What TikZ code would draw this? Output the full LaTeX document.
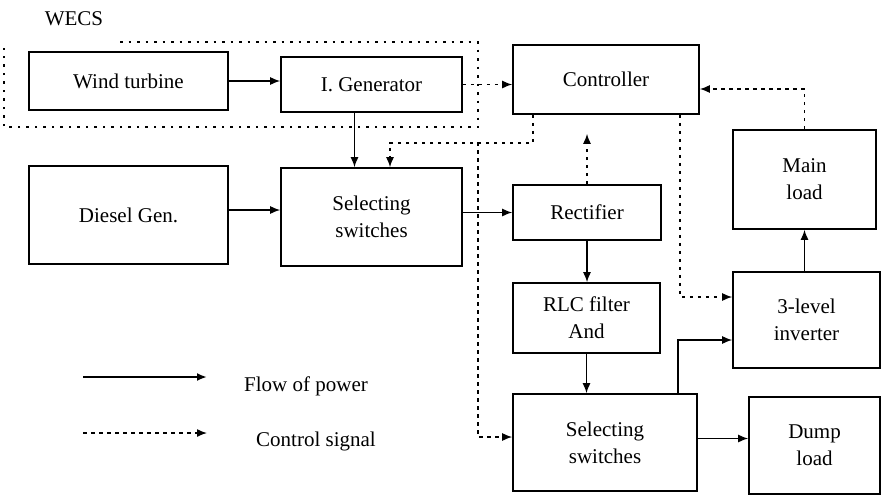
\documentclass[tikz,border=0pt]{standalone}
\usepackage{fontspec}
\setmainfont{Liberation Serif}
\usetikzlibrary{arrows.meta,positioning,calc}

\begin{document}
\begin{tikzpicture}[
  x=1pt, y=-1pt,
  >={Latex[length=10pt,width=8pt]},
  block/.style={draw, line width=1.6pt, inner sep=0pt, align=center,
                font=\fontsize{21}{27}\selectfont},
  power/.style={->, line width=1.4pt},
  ctrlsig/.style={->, line width=1.4pt, dash pattern=on 3.5pt off 4.5pt},
  border/.style={line width=1.6pt, dash pattern=on 2.5pt off 6pt},
  txt/.style={font=\fontsize{21}{27}\selectfont}
]
  \useasboundingbox (0,0) rectangle (885,496);
  %% blocks
  \node[block, minimum width=199pt, minimum height=58pt] (wt)     at (128.5,81)  {Wind turbine};
  \node[block, minimum width=181pt, minimum height=55pt] (gen)    at (371.5,84.5) {I. Generator};
  \node[block, minimum width=186pt, minimum height=69pt] (ctrl)   at (606,79.5)  {Controller};
  \node[block, minimum width=143pt, minimum height=99pt] (mload)  at (804.5,179.5) {Main\\load};
  \node[block, minimum width=199pt, minimum height=98pt] (diesel) at (128.5,215)  {Diesel Gen.};
  \node[block, minimum width=181pt, minimum height=98pt] (selA)   at (371.5,217)  {Selecting\\switches};
  \node[block, minimum width=148pt, minimum height=55pt] (rect)   at (587,212.5)  {Rectifier};
  \node[block, minimum width=147pt, minimum height=70pt] (rlc)    at (586.5,318)  {RLC filter\\And};
  \node[block, minimum width=184pt, minimum height=97pt] (selB)   at (605,442.5)  {Selecting\\switches};
  \node[block, minimum width=147pt, minimum height=96pt] (inv)    at (806.5,320)  {3-level\\inverter};
  \node[block, minimum width=131pt, minimum height=97pt] (dump)   at (814.5,445.5) {Dump\\load};
  %% WECS outline
  \node[txt] (wecs) at (74,19) {WECS};
  \draw[border] (120,42) -- (478,42) -- (478,127) -- (4,127) -- (4,48);
  %% flow of power
  \draw[power] (wt.east) -- (wt.east -| gen.west);
  \draw[power] ([xshift=-17pt]gen.south) -- ([xshift=-17pt]selA.north);
  \draw[power] ([yshift=5pt]diesel.east) -- ([yshift=5pt]diesel.east -| selA.west);
  \draw[power] (selA.east |- rect.west) -- (rect.west);
  \draw[power] (rect.south) -- (rect.south |- rlc.north);
  \draw[power] (rlc.south) -- (rlc.south |- selB.north);
  \draw[power] ([xshift=73pt]selB.north) |- ([yshift=-20pt]inv.west);
  \draw[power] ([yshift=4pt]selB.east) -- ([yshift=4pt]selB.east -| dump.west);
  \draw[power] (mload.south |- inv.north) -- (mload.south);
  %% control signals
  \draw[ctrlsig] (gen.east) -- (gen.east -| ctrl.west);
  \draw[ctrlsig] (mload.north) |- ([yshift=-9.5pt]ctrl.east);
  \draw[ctrlsig, shorten >=19pt] (rect.north) -- (rect.north |- ctrl.south);
  \draw[ctrlsig] ([xshift=-73pt]ctrl.south) -- ++(0,28) coordinate (br0)
    -| ([xshift=18.5pt]selA.north);
  \coordinate (br) at (478,142);
  \draw[ctrlsig] (br) |- ([yshift=5.5pt]selB.west);
  \draw[ctrlsig] ([xshift=74pt]ctrl.south) |- ([yshift=23pt]inv.west);
  %% legend
  \coordinate (lpA) at (83,377);
  \coordinate (lpB) at (207,377);
  \coordinate (lcA) at (83,433);
  \coordinate (lcB) at (207,433);
  \draw[power, line width=2pt] (lpA) -- (lpB);
  \draw[ctrlsig] (lcA) -- (lcB);
  \node[txt] (lp) at (306,386) {Flow of power};
  \node[txt] (lc) at (316,441) {Control signal};
\end{tikzpicture}
\end{document}
